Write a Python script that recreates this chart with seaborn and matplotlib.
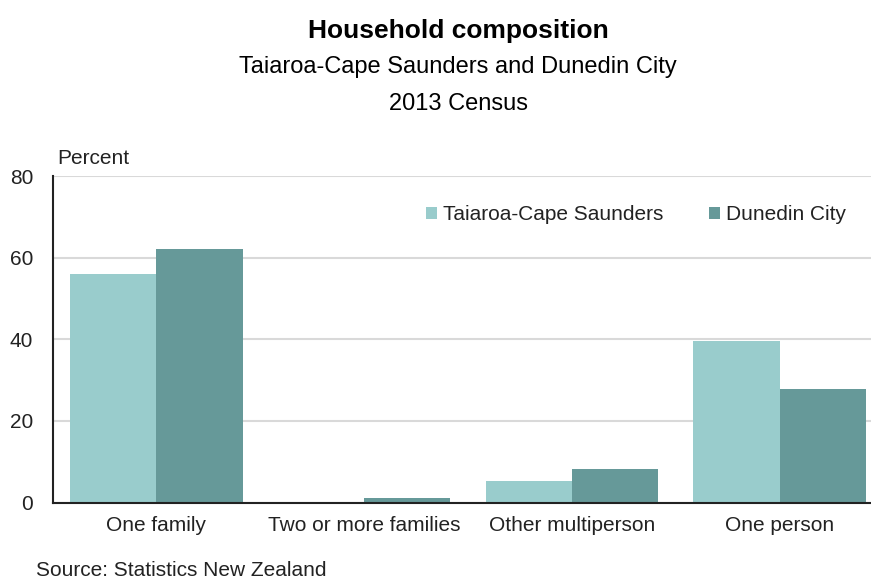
import matplotlib
matplotlib.use("Agg")
import matplotlib.pyplot as plt
import seaborn as sns
import pandas as pd
from matplotlib.patches import Patch

categories = ["One family", "Two or more families", "Other multiperson", "One person"]
series_names = ["Taiaroa-Cape Saunders", "Dunedin City"]
taiaroa = [56.1, 0.0, 5.2, 39.5]
dunedin = [62.0, 1.2, 8.1, 27.7]
yticks = [0, 20, 40, 60, 80]
colors = ["#99CCCC", "#669999"]

sns.set_theme(style="white")
plt.rcParams["font.family"] = ["Liberation Sans", "DejaVu Sans"]

df = pd.DataFrame({
    "category": categories * 2,
    "series": [series_names[0]] * 4 + [series_names[1]] * 4,
    "value": taiaroa + dunedin,
})

fig = plt.figure(figsize=(8.71, 5.80), dpi=100)
ax = fig.add_axes([52.5 / 871, 1 - 502.5 / 580, 1 - 52.5 / 871, (502.5 - 176) / 580])

sns.barplot(data=df, x="category", y="value", hue="series", order=categories,
            hue_order=series_names, palette=colors, width=0.83, gap=0,
            saturation=1, edgecolor="none", linewidth=0, ax=ax, legend=False)

ax.set_ylim(0, 80)
ax.set_yticks(yticks)
ax.set_xlim(-0.5, 3.44)
ax.yaxis.grid(True, color="#d9d9d9", linewidth=1.5)
ax.set_axisbelow(True)
for s in ["top", "right"]:
    ax.spines[s].set_visible(False)
ax.spines["left"].set_color("#222222")
ax.spines["left"].set_linewidth(1.5)
ax.spines["bottom"].set_color("#222222")
ax.spines["bottom"].set_linewidth(1.5)
ax.spines["bottom"].set_zorder(5)
ax.tick_params(axis="y", length=0, pad=14, labelsize=15, labelcolor="#222222")
ax.tick_params(axis="x", length=0, pad=10, labelsize=15, labelcolor="#222222")
ax.set_xlabel("")
ax.set_ylabel("")

fig.text(57 / 871, 1 - 158 / 580, "Percent", ha="left", va="center", fontsize=15, color="#222222")

handles = [Patch(facecolor=c, edgecolor="none", label=n) for c, n in zip(colors, series_names)]
ax.legend(handles=handles, loc="center", bbox_to_anchor=(636 / 871, 1 - 215 / 580),
          bbox_transform=fig.transFigure, ncol=2, frameon=False, fontsize=15,
          handlelength=0.5, handleheight=0.5, handletextpad=0.3, columnspacing=2.2,
          labelcolor="#222222")

fig.text(458 / 871, 1 - 31 / 580, "Household composition", ha="center", va="center",
         fontsize=19, fontweight="bold", color="black")
fig.text(458 / 871, 1 - 67 / 580, "Taiaroa-Cape Saunders and Dunedin City", ha="center",
         va="center", fontsize=17, color="black")
fig.text(458 / 871, 1 - 104 / 580, "2013 Census", ha="center", va="center",
         fontsize=17, color="black")
fig.text(36 / 871, 1 - 571 / 580, "Source: Statistics New Zealand", ha="left", va="center",
         fontsize=15, color="#222222")

fig.savefig("out.png", dpi=100)
